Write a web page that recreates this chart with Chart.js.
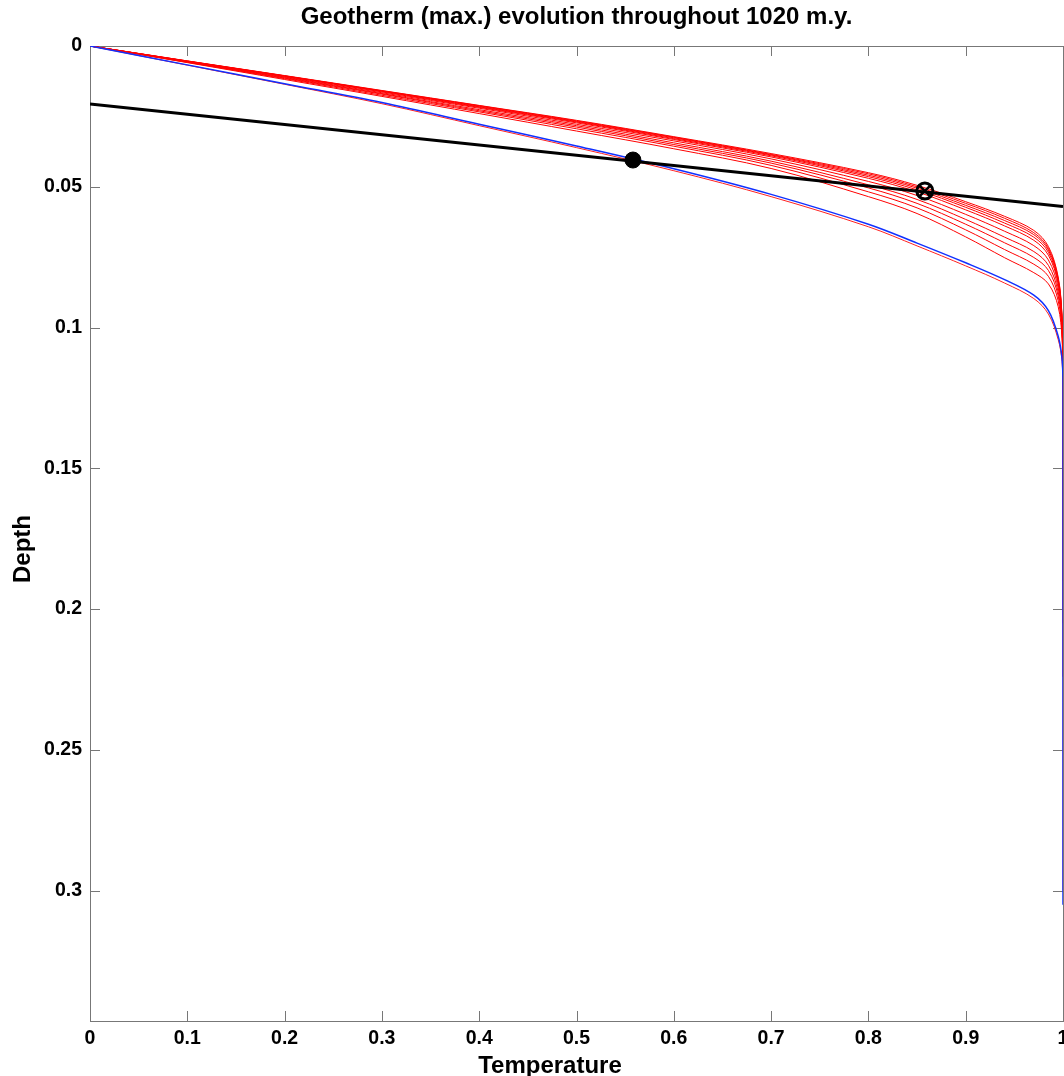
<!DOCTYPE html>
<html>
<head>
<meta charset="utf-8">
<script src="https://cdn.jsdelivr.net/npm/chart.js@4"></script>
<style>
  html, body { margin: 0; padding: 0; background: #fff; overflow: hidden; }
  #wrap { position: absolute; left: 0; top: 0; width: 1120px; height: 1076px; }
</style>
</head>
<body>
<div id="wrap"><canvas id="chart-1" width="1120" height="1076"></canvas></div>
<script>
  // Temperature samples shared by every geotherm (last 1 repeated for the vertical tail)
  const tempSamples = [0, 0.1, 0.2, 0.3, 0.4, 0.5, 0.6, 0.7, 0.8, 0.85, 0.9, 0.94, 0.97, 0.985, 0.995, 0.999, 1, 1];

  // Depth reached by each red geotherm at those temperatures
  const redCurve1  = [0, 0.0053, 0.0105, 0.0158, 0.0211, 0.0264, 0.0322, 0.0382, 0.0450, 0.0495, 0.0553, 0.0605, 0.0655, 0.0712, 0.0820, 0.0960, 0.1120, 0.135];
  const redCurve2  = [0, 0.0053, 0.0106, 0.0159, 0.0212, 0.0266, 0.0324, 0.0385, 0.0454, 0.0500, 0.0559, 0.0612, 0.0663, 0.0719, 0.0825, 0.0964, 0.1124, 0.140];
  const redCurve3  = [0, 0.0054, 0.0106, 0.0160, 0.0214, 0.0268, 0.0326, 0.0387, 0.0459, 0.0505, 0.0566, 0.0620, 0.0670, 0.0725, 0.0831, 0.0968, 0.1128, 0.145];
  const redCurve4  = [0, 0.0054, 0.0107, 0.0161, 0.0216, 0.0270, 0.0329, 0.0390, 0.0464, 0.0511, 0.0573, 0.0629, 0.0679, 0.0733, 0.0837, 0.0973, 0.1133, 0.150];
  const redCurve5  = [0, 0.0054, 0.0108, 0.0163, 0.0218, 0.0273, 0.0332, 0.0394, 0.0470, 0.0518, 0.0582, 0.0639, 0.0690, 0.0743, 0.0844, 0.0978, 0.1138, 0.160];
  const redCurve6  = [0, 0.0055, 0.0110, 0.0166, 0.0221, 0.0278, 0.0337, 0.0401, 0.0481, 0.0531, 0.0598, 0.0658, 0.0709, 0.0760, 0.0858, 0.0989, 0.1149, 0.170];
  const redCurve7  = [0, 0.0056, 0.0112, 0.0169, 0.0226, 0.0283, 0.0344, 0.0409, 0.0493, 0.0545, 0.0616, 0.0679, 0.0730, 0.0779, 0.0873, 0.1000, 0.1160, 0.180];
  const redCurve8  = [0, 0.0057, 0.0114, 0.0171, 0.0230, 0.0288, 0.0350, 0.0416, 0.0504, 0.0559, 0.0633, 0.0699, 0.0751, 0.0797, 0.0887, 0.1011, 0.1171, 0.190];
  const redCurve9  = [0, 0.0058, 0.0116, 0.0175, 0.0234, 0.0294, 0.0356, 0.0424, 0.0518, 0.0575, 0.0653, 0.0723, 0.0775, 0.0818, 0.0904, 0.1024, 0.1184, 0.205];
  const redCurve10 = [0, 0.0059, 0.0119, 0.0179, 0.0240, 0.0302, 0.0365, 0.0435, 0.0535, 0.0595, 0.0678, 0.0752, 0.0805, 0.0845, 0.0925, 0.1040, 0.1200, 0.224];
  const redCurves = [redCurve1, redCurve2, redCurve3, redCurve4, redCurve5, redCurve6, redCurve7, redCurve8, redCurve9, redCurve10];

  // red geotherm running just under the blue one
  const redUnderBlue = [0, 0.0068, 0.0136, 0.0205, 0.0283, 0.0361, 0.0443, 0.0535, 0.0642, 0.0710, 0.0781, 0.0842, 0.0897, 0.0952, 0.1042, 0.1120, 0.1230, 0.300];
  // blue geotherm
  const blueCurve = [0, 0.0067, 0.0134, 0.0201, 0.0278, 0.0355, 0.0436, 0.0527, 0.0633, 0.0700, 0.0770, 0.0830, 0.0885, 0.0940, 0.1030, 0.1110, 0.1210, 0.305];

  // thick black straight line
  const lineTemp = [0, 1];
  const lineDepth = [0.0206, 0.057];

  // markers
  const dotPoint = [0.558, 0.0405];
  const crossPoint = [0.858, 0.0515];

  // axes
  const xTicks = [0, 0.1, 0.2, 0.3, 0.4, 0.5, 0.6, 0.7, 0.8, 0.9, 1];
  const xTickLabels = ['0', '0.1', '0.2', '0.3', '0.4', '0.5', '0.6', '0.7', '0.8', '0.9', '1'];
  const yTicks = [0, 0.05, 0.1, 0.15, 0.2, 0.25, 0.3];
  const yTickLabels = ['0', '0.05', '0.1', '0.15', '0.2', '0.25', '0.3'];
  const depthMax = 0.3463;

  const titleText = 'Geotherm (max.) evolution throughout 1020 m.y.';
  const xTitle = 'Temperature';
  const yTitle = 'Depth';

  function toPoints(depths) {
    return tempSamples.map((t, i) => ({ x: t, y: depths[i] }));
  }

  const datasets = [];
  datasets.push({
    data: [{ x: dotPoint[0], y: dotPoint[1] }],
    showLine: false, pointRadius: 8, pointStyle: 'circle',
    backgroundColor: '#000', borderColor: '#000', borderWidth: 1, order: 0
  });
  datasets.push({
    data: [{ x: crossPoint[0], y: crossPoint[1] }],
    showLine: false, pointRadius: 8, pointStyle: 'circle',
    backgroundColor: 'rgba(0,0,0,0)', borderColor: '#000', borderWidth: 3, order: 0
  });
  datasets.push({
    data: [{ x: crossPoint[0], y: crossPoint[1] }],
    showLine: false, pointRadius: 8, pointStyle: 'crossRot',
    borderColor: '#000', borderWidth: 2.5, order: 0
  });
  datasets.push({
    data: lineTemp.map((t, i) => ({ x: t, y: lineDepth[i] })),
    showLine: true, borderColor: '#000', borderWidth: 3, pointRadius: 0, tension: 0, order: 1
  });
  datasets.push({
    data: toPoints(blueCurve),
    showLine: true, borderColor: '#1030ff', borderWidth: 1.5, pointRadius: 0, order: 2
  });
  datasets.push({
    data: toPoints(redUnderBlue),
    showLine: true, borderColor: '#ff2020', borderWidth: 1, pointRadius: 0, order: 3
  });
  redCurves.forEach(c => {
    datasets.push({
      data: toPoints(c),
      showLine: true, borderColor: '#ff0000', borderWidth: 1, pointRadius: 0, order: 4
    });
  });

  // boîte grise + graduations vers l'intérieur (style MATLAB) + textes
  const boxPlugin = {
    id: 'box',
    beforeDatasetsDraw(chart) {
      const a = chart.chartArea;
      const c = chart.ctx;
      const xs = chart.scales.x, ys = chart.scales.y;
      c.save();
      c.strokeStyle = '#777';
      c.lineWidth = 1;
      c.beginPath();
      xTicks.forEach(v => {
        const px = Math.round(xs.getPixelForValue(v)) + 0.5;
        c.moveTo(px, a.bottom); c.lineTo(px, a.bottom - 10);
        c.moveTo(px, a.top); c.lineTo(px, a.top + 10);
      });
      yTicks.forEach(v => {
        const py = Math.round(ys.getPixelForValue(v)) + 0.5;
        c.moveTo(a.left, py); c.lineTo(a.left + 10, py);
        c.moveTo(a.right, py); c.lineTo(a.right - 10, py);
      });
      c.stroke();
      c.strokeRect(Math.round(a.left) + 0.5, Math.round(a.top) + 0.5, Math.round(a.right - a.left), Math.round(a.bottom - a.top));

      // titres
      c.fillStyle = '#000';
      c.textAlign = 'center';
      c.textBaseline = 'middle';
      c.font = "bold 24px 'Liberation Sans', Arial, sans-serif";
      c.fillText(titleText, (a.left + a.right) / 2, 17);
      c.fillText(xTitle, 550, 1066);
      c.translate(23, 549);
      c.rotate(-Math.PI / 2);
      c.fillText(yTitle, 0, 0);
      c.restore();
    }
  };

  Chart.defaults.font.family = "'Liberation Sans', Arial, sans-serif";
  Chart.defaults.color = '#000';

  const ctx = document.getElementById('chart-1');
  new Chart(ctx, {
    type: 'scatter',
    data: { datasets: datasets },
    plugins: [boxPlugin],
    options: {
      responsive: false,
      animation: false,
      devicePixelRatio: 1,
      layout: { padding: { left: 0, right: 57, top: 46, bottom: 0 } },
      elements: { line: { tension: 0.35 } },
      plugins: {
        legend: { display: false },
        tooltip: { enabled: false },
        title: { display: false }
      },
      scales: {
        x: {
          type: 'linear', position: 'bottom', min: 0, max: 1,
          grid: { display: false, drawTicks: false },
          border: { display: false },
          afterBuildTicks: s => { s.ticks = xTicks.map(v => ({ value: v })); },
          afterFit: s => { s.height = 55; },
          ticks: {
            font: { size: 19.5, weight: 'bold' }, color: '#000', padding: 6,
            maxRotation: 0, autoSkip: false,
            callback: (v, i) => xTickLabels[i]
          }
        },
        y: {
          type: 'linear', reverse: true, min: 0, max: depthMax,
          grid: { display: false, drawTicks: false },
          border: { display: false },
          afterBuildTicks: s => { s.ticks = yTicks.map(v => ({ value: v })); },
          afterFit: s => { s.width = 90; },
          ticks: {
            font: { size: 19.5, weight: 'bold' }, color: '#000', padding: 8,
            autoSkip: false,
            callback: (v, i) => yTickLabels[i]
          }
        }
      }
    }
  });
</script>
</body>
</html>
